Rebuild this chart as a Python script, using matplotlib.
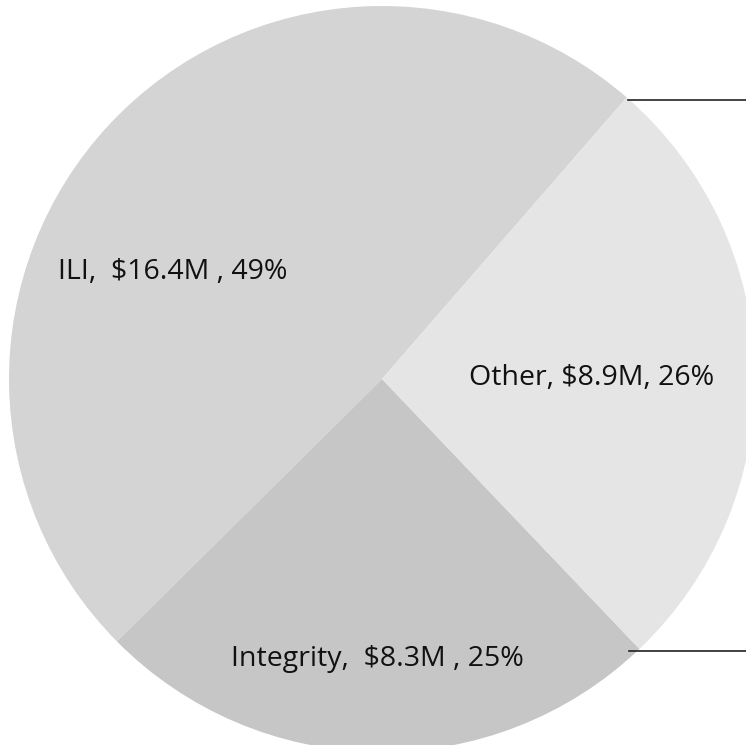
import matplotlib
matplotlib.use("Agg")
import matplotlib.pyplot as plt

# segment data
labels = ["ILI,  $16.4M , 49%", "Integrity,  $8.3M , 25%", "Other, $8.9M, 26%"]
amounts = [16.4, 8.3, 8.9]
colors = ["#d4d4d4", "#c6c6c6", "#e5e5e5"]

W, H = 746, 745
fig = plt.figure(figsize=(W / 100, H / 100), dpi=100)
ax = fig.add_axes([0, 0, 1, 1])

cx, cy, r = 382, H - 379, 373
ax.pie(amounts, colors=colors, startangle=49, counterclock=True,
       center=(cx, cy), radius=r, frame=True,
       wedgeprops=dict(linewidth=0))
ax.set_xlim(0, W)
ax.set_ylim(0, H)
ax.set_aspect("equal")
ax.axis("off")

# label positions (pixels from top-left, baseline)
label_pos = [(173, 279), (377, 666), (592, 385)]
for txt, (x, y) in zip(labels, label_pos):
    ax.text(x, H - y, txt, ha="center", va="baseline", fontsize=20.5,
            family="Open Sans", color="#111111")

# leader lines at the right
ax.plot([628, W], [H - 100, H - 100], color="#222222", lw=1.2)
ax.plot([629, W], [H - 651, H - 651], color="#222222", lw=1.2)

fig.savefig("out.png", dpi=100)
